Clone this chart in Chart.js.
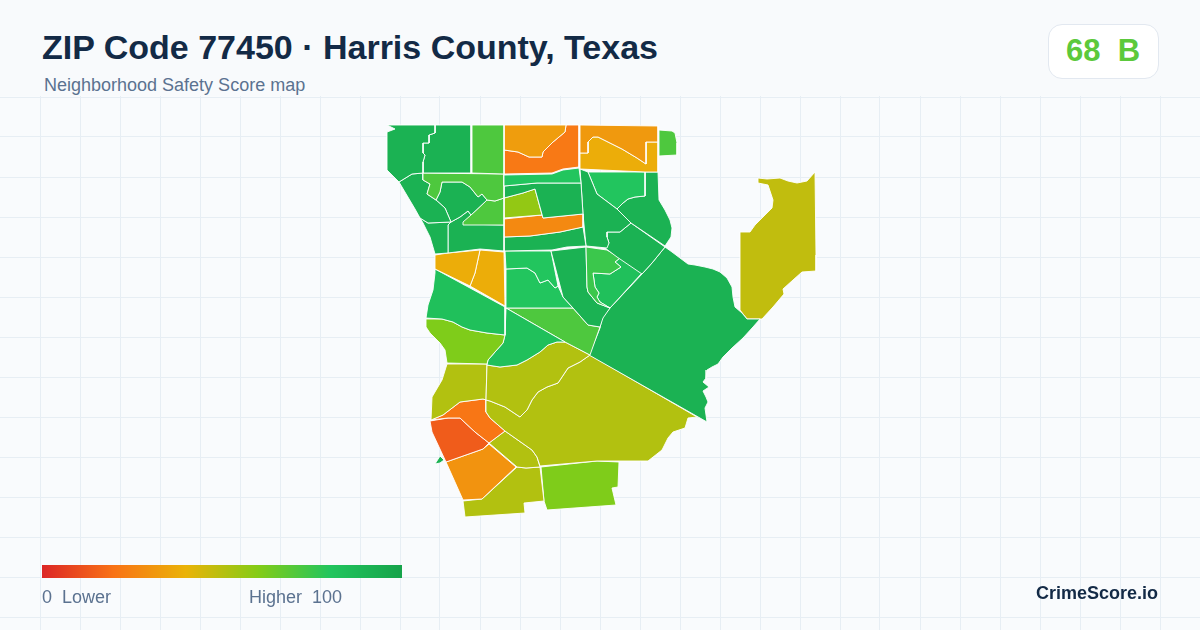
<!DOCTYPE html>
<html><head><meta charset="utf-8">
<script src="https://cdn.jsdelivr.net/npm/chart.js@4"></script>
<style>
html,body{margin:0;padding:0;width:1200px;height:630px;overflow:hidden;background:#f8fafc;font-family:"Liberation Sans",Arial,sans-serif}
#wrap{position:relative;width:1200px;height:630px}
canvas{position:absolute;left:0;top:96px;background:#f9fbfd}
.t{position:absolute;white-space:pre;line-height:1}
#title{left:42px;top:30px;font-size:34px;font-weight:700;color:#132a46}
#sub{left:44px;top:76px;font-size:18px;color:#5b7290}
#badge{position:absolute;left:1048px;top:24px;width:109px;height:53px;background:#fff;border:1px solid #e2e8f0;border-radius:14px;box-sizing:content-box}
#score{left:1066px;top:35px;font-size:31px;font-weight:700;color:#5cc93c}
#bar{position:absolute;left:42px;top:565px;width:360px;height:13px;background:linear-gradient(90deg,#dc2626 0%,#f97316 20%,#eab308 40%,#84cc16 60%,#22c55e 80%,#16a34a 100%)}
.lg{font-size:18px;color:#5b7290;top:588px}
#brand{left:1036px;top:584px;font-size:18px;font-weight:700;color:#132a46}
</style></head><body>
<div id="wrap">
<canvas id="c" width="1200" height="534"></canvas>
<div class="t" id="title">ZIP Code 77450 · Harris County, Texas</div>
<div class="t" id="sub">Neighborhood Safety Score map</div>
<div id="badge"></div><div class="t" id="score">68  B</div>
<div id="bar"></div>
<div class="t lg" style="left:42px">0  Lower</div>
<div class="t lg" style="left:249px">Higher  100</div>
<div class="t" id="brand">CrimeScore.io</div>
</div>
<script>
// Colour ramp stops (score, rgb)
const rampScores=[0,20,40,60,80,100];
const rampColors=[[220,38,38],[249,115,22],[234,179,8],[132,204,22],[34,197,94],[22,163,74]];

// Tract outlines
const nw1=[[387,125],[435,125],[435,133],[429,135],[429,143],[423,143],[423,153],[425,155],[423,162],[423,173],[412,174],[399,182],[387,170],[387,132],[395,129]];
const nw2=[[435,125],[471,125],[471,173],[423,173],[423,162],[425,155],[423,153],[423,143],[429,143],[429,135],[435,133]];
const n3=[[472,125],[504,125],[504,174],[472,173]];
const n4=[[504,125],[566,125],[565,132],[553,142],[543,152],[542,157],[529,157],[518,152],[504,150]];
const n5=[[566,125],[579,125],[579,167],[563,169],[552,173],[504,174],[504,150],[518,152],[529,157],[542,157],[543,152],[553,142],[565,132]];
const n6=[[580,125],[658,126],[658,142],[646,142],[646,164],[637,158],[622,149],[598,137],[593,137],[588,142],[588,153],[580,153]];
const n7=[[580,153],[588,153],[588,142],[593,137],[598,137],[622,149],[637,158],[646,164],[646,142],[658,142],[658,172],[645,172],[580,169]];
const n8=[[659,130],[672,131],[675,133],[677,143],[677,155],[659,156]];
const c1=[[504,175],[552,174],[563,170],[579,168],[581,183],[537,183],[504,186]];
const c2=[[423,173],[504,174],[504,198],[495,201],[487,200],[482,194],[478,197],[470,187],[462,182],[442,182],[440,192],[436,200],[427,194],[430,184],[423,180]];
const w1=[[399,182],[412,174],[423,173],[423,180],[430,184],[427,194],[436,200],[445,208],[451,222],[428,223],[420,218],[415,209]];
const w2=[[442,182],[462,182],[470,187],[478,197],[482,194],[487,200],[471,215],[468,211],[460,217],[451,222],[445,208],[436,200],[440,192]];
const c3=[[487,200],[495,201],[504,198],[504,225],[463,225],[463,222],[471,215]];
const w3=[[415,209],[423,223],[430,237],[435,254],[448,253],[448,225],[451,222],[428,223],[420,218]];
const w4=[[448,225],[451,222],[460,217],[468,211],[471,215],[463,224],[504,225],[504,251],[480,249],[448,253]];
const c4=[[504,186],[537,183],[581,183],[583,214],[543,218],[535,189],[523,193],[504,198]];
const c5=[[504,198],[523,193],[535,189],[542,215],[504,218]];
const c6=[[504,219],[542,215],[543,218],[583,214],[583,227],[560,232],[530,236],[504,237]];
const c7=[[504,237],[530,236],[560,232],[583,227],[586,246],[567,247],[552,250],[504,251]];
const e1=[[580,169],[588,172],[597,194],[617,209],[631,223],[620,232],[607,232],[607,237],[609,243],[607,248],[586,246],[583,214],[581,183]];
const e2=[[588,172],[645,172],[645,196],[635,197],[628,199],[623,203],[617,209],[597,194]];
const e3=[[645,172],[658,172],[659,200],[665,210],[670,220],[672,228],[671,237],[665,246],[631,223],[617,209],[623,203],[628,199],[635,197],[645,196]];
const e4=[[631,223],[665,247],[652,263],[642,274],[617,257],[605,248],[609,243],[607,237],[607,232],[620,232]];
const m1=[[586,247],[607,250],[620,258],[615,262],[621,267],[610,274],[593,273],[595,287],[599,293],[597,297],[600,302],[610,308],[597,303],[588,292],[587,287]];
const m2=[[620,258],[642,273],[610,308],[600,302],[597,297],[599,293],[595,287],[593,273],[610,274],[621,267],[615,262]];
const m3=[[551,251],[586,247],[587,287],[588,292],[597,303],[610,308],[603,318],[600,327],[588,325],[573,308],[563,297]];
const m4=[[505,251],[551,251],[558,286],[555,288],[548,280],[540,283],[535,273],[527,268],[506,269]];
const m5=[[506,269],[527,268],[535,273],[540,283],[548,280],[555,288],[558,286],[563,297],[573,308],[506,308]];
const s1=[[435,255],[448,253],[480,250],[475,273],[470,286],[435,269]];
const s2=[[480,250],[504,252],[505,306],[470,286],[475,273]];
const s3=[[435,269],[505,307],[505,335],[487,333],[470,330],[462,327],[453,322],[442,319],[426,318],[428,305],[433,290],[435,273]];
const s4=[[426,319],[442,319],[453,322],[462,327],[470,330],[487,333],[505,335],[503,343],[495,352],[488,360],[487,364],[447,363],[445,350],[440,343],[430,333],[426,327]];
const s5=[[506,308],[565,342],[557,342],[548,345],[540,352],[527,360],[517,365],[500,367],[487,365],[488,360],[495,352],[503,343],[505,335]];
const s6=[[506,308],[573,308],[588,325],[600,327],[590,355],[565,342]];
const big=[[610,308],[642,274],[652,263],[665,247],[672,252],[680,258],[688,264],[695,265],[705,267],[713,269],[720,272],[727,278],[732,287],[733,297],[735,307],[742,313],[747,319],[752,319],[760,319],[753,327],[743,338],[732,348],[723,357],[718,364],[712,367],[707,370],[706,378],[703,382],[709,387],[703,391],[706,397],[708,402],[705,408],[707,422],[589,355],[600,328],[602,318]];
const far=[[758,178],[767,179],[780,178],[788,181],[797,183],[807,181],[815,172],[816,255],[816,271],[802,272],[793,280],[783,289],[784,294],[773,307],[762,319],[747,319],[740,310],[740,232],[750,232],[755,225],[772,208],[773,200],[768,185],[758,183]];
const o1=[[487,365],[500,367],[517,365],[527,360],[540,352],[548,345],[557,342],[565,342],[590,355],[580,362],[568,368],[558,383],[547,387],[538,392],[532,400],[527,410],[520,417],[505,407],[490,401],[486,400]];
const o2=[[447,364],[487,364],[486,400],[483,399],[460,402],[443,415],[431,420],[432,397],[442,380]];
const o3=[[486,400],[490,401],[505,407],[520,417],[527,410],[532,400],[538,392],[547,387],[558,383],[568,368],[580,362],[590,355],[697,417],[688,418],[685,428],[673,432],[668,438],[662,450],[648,461],[597,461],[540,466],[537,457],[532,450],[505,431],[490,418],[486,412]];
const r1=[[460,402],[483,399],[486,400],[486,412],[490,418],[505,431],[489,443],[475,432],[460,418],[448,418],[431,420],[443,415]];
const r2=[[430,421],[448,418],[460,418],[475,432],[489,443],[483,449],[446,462],[432,432]];
const r3=[[446,462],[483,449],[489,444],[516,467],[482,499],[463,500]];
const o4=[[489,443],[505,431],[532,450],[537,457],[540,467],[526,468],[517,467]];
const o5=[[463,501],[482,499],[517,467],[526,468],[540,467],[544,501],[524,503],[525,513],[465,517]];
const l1=[[541,467],[597,461],[619,462],[618,487],[612,488],[616,505],[547,510],[544,501]];
const tiny=[[435,464],[440,456],[444,460],[440,463]];

const tracts=[nw1,nw2,n3,n4,n5,n6,n7,n8,c1,c2,w1,w2,c3,w3,w4,c4,c5,c6,c7,e1,e2,e3,e4,m1,m2,m3,m4,m5,s1,s2,s3,s4,s5,s6,big,far,o1,o2,o3,r1,r2,r3,o4,o5,l1,tiny];
const tractScores=[91,91,71,33,22,32,38,71,80,71,91,91,71,91,91,91,57,27,91,91,80,91,91,75,83,91,80,80,38,38,83,61,83,71,91,48,51,51,51,21,14,30,51,51,61,91];

// Axis grid positions
const gridX=Array.from({length:30},(_,i)=>40*(i+1));
const gridY=[97,137,177,217,257,297,337,377,417,457,497,537,577,617];

function ramp(s){
  let i=0;
  while(i<rampScores.length-2 && s>rampScores[i+1]) i++;
  const t=(s-rampScores[i])/(rampScores[i+1]-rampScores[i]);
  const a=rampColors[i],b=rampColors[i+1];
  return 'rgb('+a.map((v,k)=>Math.round(v+(b[k]-v)*t)).join(',')+')';
}
const grid={color:'#e7eef4',lineWidth:1,drawTicks:false};
new Chart(document.getElementById('c'),{
  type:'scatter',
  data:{datasets:tracts.map((p,i)=>({
    data:p.concat([p[0]]).map(q=>({x:q[0],y:q[1]})),
    showLine:true,fill:'shape',tension:0,pointRadius:0,
    backgroundColor:ramp(tractScores[i]),borderColor:'#ffffff',borderWidth:0.9,borderJoinStyle:'round'
  }))},
  options:{
    responsive:false,animation:false,devicePixelRatio:1,
    layout:{padding:0},
    plugins:{legend:{display:false},tooltip:{enabled:false}},
    scales:{
      x:{type:'linear',min:0,max:1200,grid:grid,border:{display:false},
         ticks:{display:false,autoSkip:false},
         afterBuildTicks:a=>{a.ticks=gridX.map(v=>({value:v}));}},
      y:{type:'linear',reverse:true,min:96,max:630,grid:grid,border:{display:false},
         ticks:{display:false,autoSkip:false},
         afterBuildTicks:a=>{a.ticks=gridY.map(v=>({value:v}));}}
    }
  }
});
</script>
</body></html>
